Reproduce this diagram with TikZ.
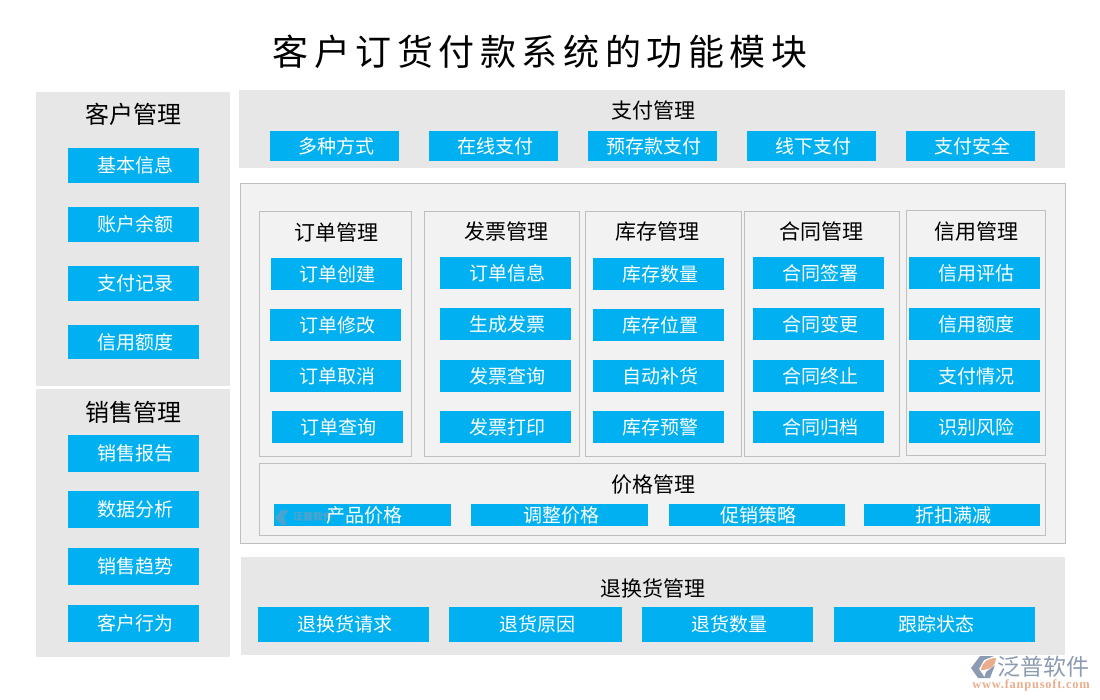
\documentclass[tikz,border=0pt]{standalone}
\usepackage{fontspec}
\setmainfont{Noto Sans CJK SC}
\newfontfamily\titlefont[LetterSpace=15.5]{Noto Sans CJK SC}
\newfontfamily\urlfont[LetterSpace=6]{Liberation Serif}
\definecolor{panelgray}{HTML}{E7E7E7}
\definecolor{innergray}{HTML}{F2F2F2}
\definecolor{linegray}{HTML}{BFBFBF}
\definecolor{itemblue}{HTML}{00B0F0}
\definecolor{logoblue}{HTML}{8C9BB2}
\definecolor{logoorange}{HTML}{E9AC8C}
\tikzset{
  panel/.style={fill=panelgray,draw=none,inner sep=0,outer sep=0},
  innerpanel/.style={fill=innergray,draw=linegray,line width=0.8,inner sep=0,outer sep=0},
  itembox/.style={fill=itemblue,text=white,inner sep=0,outer sep=0,font=\fontsize{19}{19}\selectfont,execute at begin node=\hskip 3pt},
  headbig/.style={inner sep=0,font=\fontsize{24}{24}\selectfont},
  headmid/.style={inner sep=0,font=\fontsize{21}{21}\selectfont},
}
\begin{document}
\begin{tikzpicture}[x=1pt,y=-1pt]
\useasboundingbox (0,0) rectangle (1100,700);
\node[inner sep=0,font=\titlefont\fontsize{36}{36}\selectfont] (title) at (540,52) {客户订货付款系统的功能模块};
% left side
\node[panel,minimum width=194,minimum height=294] (kehu) at (133,239) {};
\node[panel,minimum width=194,minimum height=268] (xiaoshou) at (133,523) {};
\node[headbig] (kehuhead) at (133.5,114) {客户管理};
\node[headbig] (xiaoshouhead) at (133.5,412) {销售管理};
\foreach \i/\ypos/\hgt/\txt in {1/165.5/35/基本信息,2/224.5/35/账户余额,3/283.5/35/支付记录,4/342/34/信用额度}
  \node[itembox,minimum width=131,minimum height=\hgt] (kh\i) at (133.5,\ypos) {\txt};
\foreach \i/\ypos/\txt in {1/453.5/销售报告,2/509.5/数据分析,3/566.5/销售趋势,4/623.5/客户行为}
  \node[itembox,minimum width=131,minimum height=37] (xs\i) at (133.5,\ypos) {\txt};
% payment
\node[panel,minimum width=826,minimum height=78] (zhifu) at (652,129) {};
\node[headmid] (zhifuhead) at (653,111) {支付管理};
\foreach \i/\xpos/\txt in {1/334.5/多种方式,2/493.5/在线支付,3/652.5/预存款支付,4/811.5/线下支付,5/970.5/支付安全}
  \node[itembox,minimum width=129,minimum height=30] (zf\i) at (\xpos,146) {\txt};
% middle
\node[innerpanel,minimum width=825.5,minimum height=360] (mokuai) at (652.75,363) {};
\node[innerpanel,minimum width=152,minimum height=245] (dingdan) at (335,333.5) {};
\node[innerpanel,minimum width=155.5,minimum height=245] (fapiao) at (501.75,333.5) {};
\node[innerpanel,minimum width=156.5,minimum height=245] (kucun) at (663.25,333.5) {};
\node[innerpanel,minimum width=155.5,minimum height=245] (hetong) at (821.75,333.5) {};
\node[innerpanel,minimum width=139.5,minimum height=245] (xinyong) at (975.75,332.5) {};
\node[headmid] (dingdanhead) at (336,232) {订单管理};
\node[headmid] (fapiaohead) at (506.5,232) {发票管理};
\node[headmid] (kucunhead) at (657,232) {库存管理};
\node[headmid] (hetonghead) at (821,232) {合同管理};
\node[headmid] (xinyonghead) at (976,232) {信用管理};
\foreach \i/\xpos/\ypos/\txt in {1/336/274/订单创建,2/335.5/325/订单修改,3/335.5/376/订单取消,4/337/427/订单查询}
  \node[itembox,minimum width=131,minimum height=32] (dd\i) at (\xpos,\ypos) {\txt};
\foreach \i/\xpos/\ypos/\txt in {1/505.5/273/订单信息,2/505.5/324/生成发票,3/505.5/376/发票查询,4/505.5/427/发票打印}
  \node[itembox,minimum width=131,minimum height=32] (fp\i) at (\xpos,\ypos) {\txt};
\foreach \i/\xpos/\ypos/\txt in {1/658.5/274/库存数量,2/658.5/325/库存位置,3/658.5/376/自动补货,4/658.5/427/库存预警}
  \node[itembox,minimum width=131,minimum height=32] (kc\i) at (\xpos,\ypos) {\txt};
\foreach \i/\xpos/\ypos/\txt in {1/818.5/273/合同签署,2/818.5/324/合同变更,3/818.5/376/合同终止,4/818.5/427/合同归档}
  \node[itembox,minimum width=131,minimum height=32] (ht\i) at (\xpos,\ypos) {\txt};
\foreach \i/\xpos/\ypos/\txt in {1/974.5/273/信用评估,2/974.5/324/信用额度,3/974.5/376/支付情况,4/974.5/427/识别风险}
  \node[itembox,minimum width=131,minimum height=32] (xy\i) at (\xpos,\ypos) {\txt};
% price
\node[innerpanel,minimum width=786.5,minimum height=72] (jiage) at (652.25,499) {};
\node[headmid] (jiagehead) at (653,485) {价格管理};
\node[itembox,minimum width=177,minimum height=22] (jg1) at (362.5,515) {};
\fill[logoblue,opacity=0.5] (275,518)--(281,510)--(289,510)--(284,517)--(287,525)--(281,525)--cycle;
\node[inner sep=0,text=logoblue,opacity=0.6,font=\bfseries\fontsize{10}{10}\selectfont,anchor=west] (jgmark) at (293,517) {泛普软件};
\node[inner sep=0,xshift=1.5,text=white,font=\fontsize{19}{19}\selectfont] (jg1txt) at (jg1) {产品价格};
\node[itembox,minimum width=177,minimum height=22] (jg2) at (559.5,515) {调整价格};
\node[itembox,minimum width=176,minimum height=22] (jg3) at (757,515) {促销策略};
\node[itembox,minimum width=176,minimum height=22] (jg4) at (952,515) {折扣满减};
% returns
\node[panel,minimum width=824,minimum height=98] (tuihuan) at (653,606) {};
\node[headmid] (tuihuanhead) at (653,588) {退换货管理};
\node[itembox,minimum width=171,minimum height=35] (th1) at (343.5,624.5) {退换货请求};
\node[itembox,minimum width=173,minimum height=35] (th2) at (535.5,624.5) {退货原因};
\node[itembox,minimum width=171,minimum height=35] (th3) at (727.5,624.5) {退货数量};
\node[itembox,minimum width=201,minimum height=35] (th4) at (934.5,624.5) {跟踪状态};
% logo
\fill[logoblue] (971,668)--(980,656)--(994,656)--(984,660)--(979,669)--(985,678)--(978,678)--cycle;
\fill[logoorange] (981,670) .. controls (982,662) and (988,658) .. (996,658) .. controls (996,665) and (991,670) .. cycle;
\fill[logoblue] (986,672)--(995,665)--(990,678)--(984,678)--cycle;
\node[inner sep=0,text=logoblue,font=\fontsize{23}{23}\selectfont,anchor=west] (logotext) at (997,667) {泛普软件};
\node[inner sep=0,text=logoorange,font=\urlfont\bfseries\fontsize{12.5}{12.5}\selectfont,anchor=east] (logourl) at (1090,685) {www.fanpusoft.com};
\end{tikzpicture}
\end{document}
